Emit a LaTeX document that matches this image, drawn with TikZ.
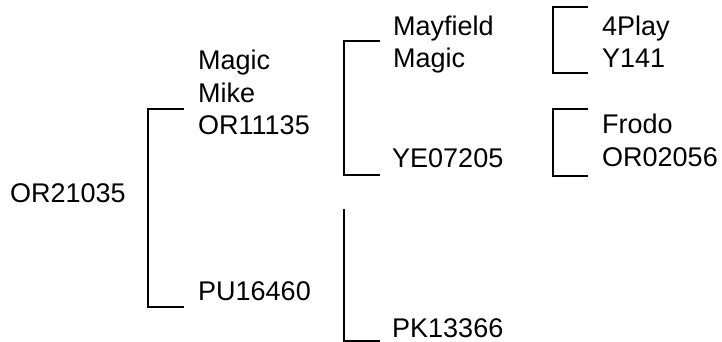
\documentclass[tikz,border=0pt]{standalone}
\usepackage{fontspec}
\setmainfont{Liberation Sans}

\begin{document}
\begin{tikzpicture}[x=1pt, y=-1pt,
        horse/.style={anchor=base west, inner sep=0pt, align=left, font=\fontsize{27}{32.5}\selectfont},
        pedline/.style={draw, line width=2pt}]
        \useasboundingbox (0,0) rectangle (722,342);
        \node [horse] (root) at (10,202) {OR21035};
        \node [horse] (sire) at (198,135) {Magic\\Mike\\OR11135};
        \node [horse] (dam) at (198,300) {PU16460};
        \node [horse] (siresire) at (393,68) {Mayfield\\Magic};
        \node [horse] (siredam) at (392,167) {YE07205};
        \node [horse] (damdam) at (392,337) {PK13366};
        \node [horse] (sssire) at (602,68) {4Play\\Y141};
        \node [horse] (ssdam) at (602,166) {Frodo\\OR02056};
        \coordinate (t1) at (184,109);
        \coordinate (b1) at (184,307);
        \coordinate (t2) at (380,41);
        \coordinate (b2) at (380,175);
        \coordinate (t3) at (344,209);
        \coordinate (b3) at (380,341);
        \coordinate (t4) at (588,7);
        \coordinate (b4) at (588,73);
        \coordinate (t5) at (588,109);
        \coordinate (b5) at (588,176);
        \path [pedline]
            (t1) -- ++(-36,0) |- (b1)
            (t2) -- ++(-36,0) |- (b2)
            (t3) |- (b3)
            (t4) -- ++(-35,0) |- (b4)
            (t5) -- ++(-35,0) |- (b5);
    \end{tikzpicture}
\end{document}
